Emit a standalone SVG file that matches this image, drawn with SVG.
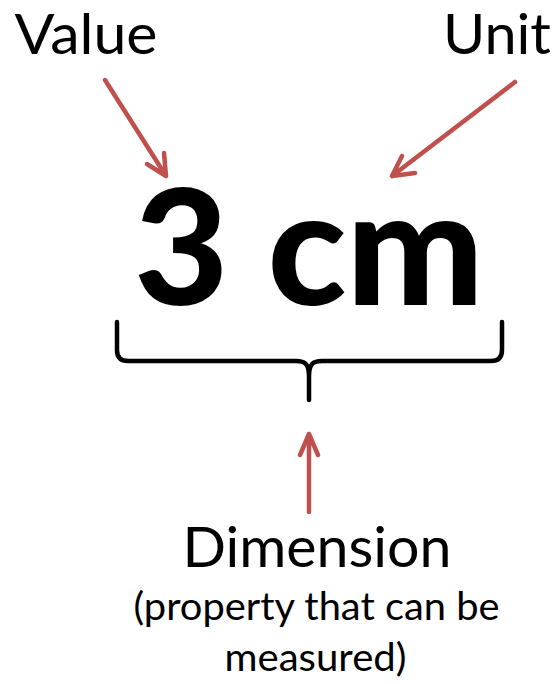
<svg xmlns="http://www.w3.org/2000/svg" width="557" height="684" viewBox="0 0 557 684">
  <style>
    .lbl { font-family: Lato, "Open Sans", "Liberation Sans", sans-serif; fill: #000; text-anchor: middle; }
    .big { font-family: Lato, "Open Sans", "Liberation Sans", sans-serif; font-weight: 900; fill: #000; text-anchor: middle; }
    .arrow { fill: none; stroke: #C0504D; stroke-width: 4.5; stroke-linecap: round; stroke-linejoin: round; }
    .brace { fill: none; stroke: #000; stroke-width: 4.5; stroke-linecap: round; stroke-linejoin: round; }
  </style>
  <rect width="557" height="684" fill="#fff"/>
  <g id="value">
    <text class="lbl" x="86" y="54" font-size="56" textLength="143" lengthAdjust="spacingAndGlyphs">Value</text>
  </g>
  <g id="unit">
    <text class="lbl" x="497" y="54" font-size="56" textLength="108" lengthAdjust="spacingAndGlyphs">Unit</text>
  </g>
  <g id="quantity">
    <text class="big" x="309" y="305" font-size="160" textLength="350" lengthAdjust="spacingAndGlyphs">3 cm</text>
  </g>
  <g id="brace">
    <path class="brace" d="M117,322 V350 Q117,361 128,361 H296 C305,361 309,364 309,376 V400 M309,376 C309,364 313,361 322,361 H491 Q502,361 502,350 V322"/>
  </g>
  <g id="dimension">
    <text class="lbl" x="317" y="567" font-size="56" textLength="269" lengthAdjust="spacingAndGlyphs">Dimension</text>
    <text class="lbl" x="316.5" y="620" font-size="38" textLength="366" lengthAdjust="spacingAndGlyphs">(property that can be</text>
    <text class="lbl" x="315.5" y="671" font-size="38" textLength="182" lengthAdjust="spacingAndGlyphs">measured)</text>
  </g>
  <g id="connectors">
    <path class="arrow" d="M105,80 L166,176 M147,164 L166,176 L164,153"/>
    <path class="arrow" d="M515,82 L392,176 M402,156 L392,176 L415,173"/>
    <path class="arrow" d="M309,512 L309,434 M300,455 L309,434 L318,455"/>
  </g>
</svg>
